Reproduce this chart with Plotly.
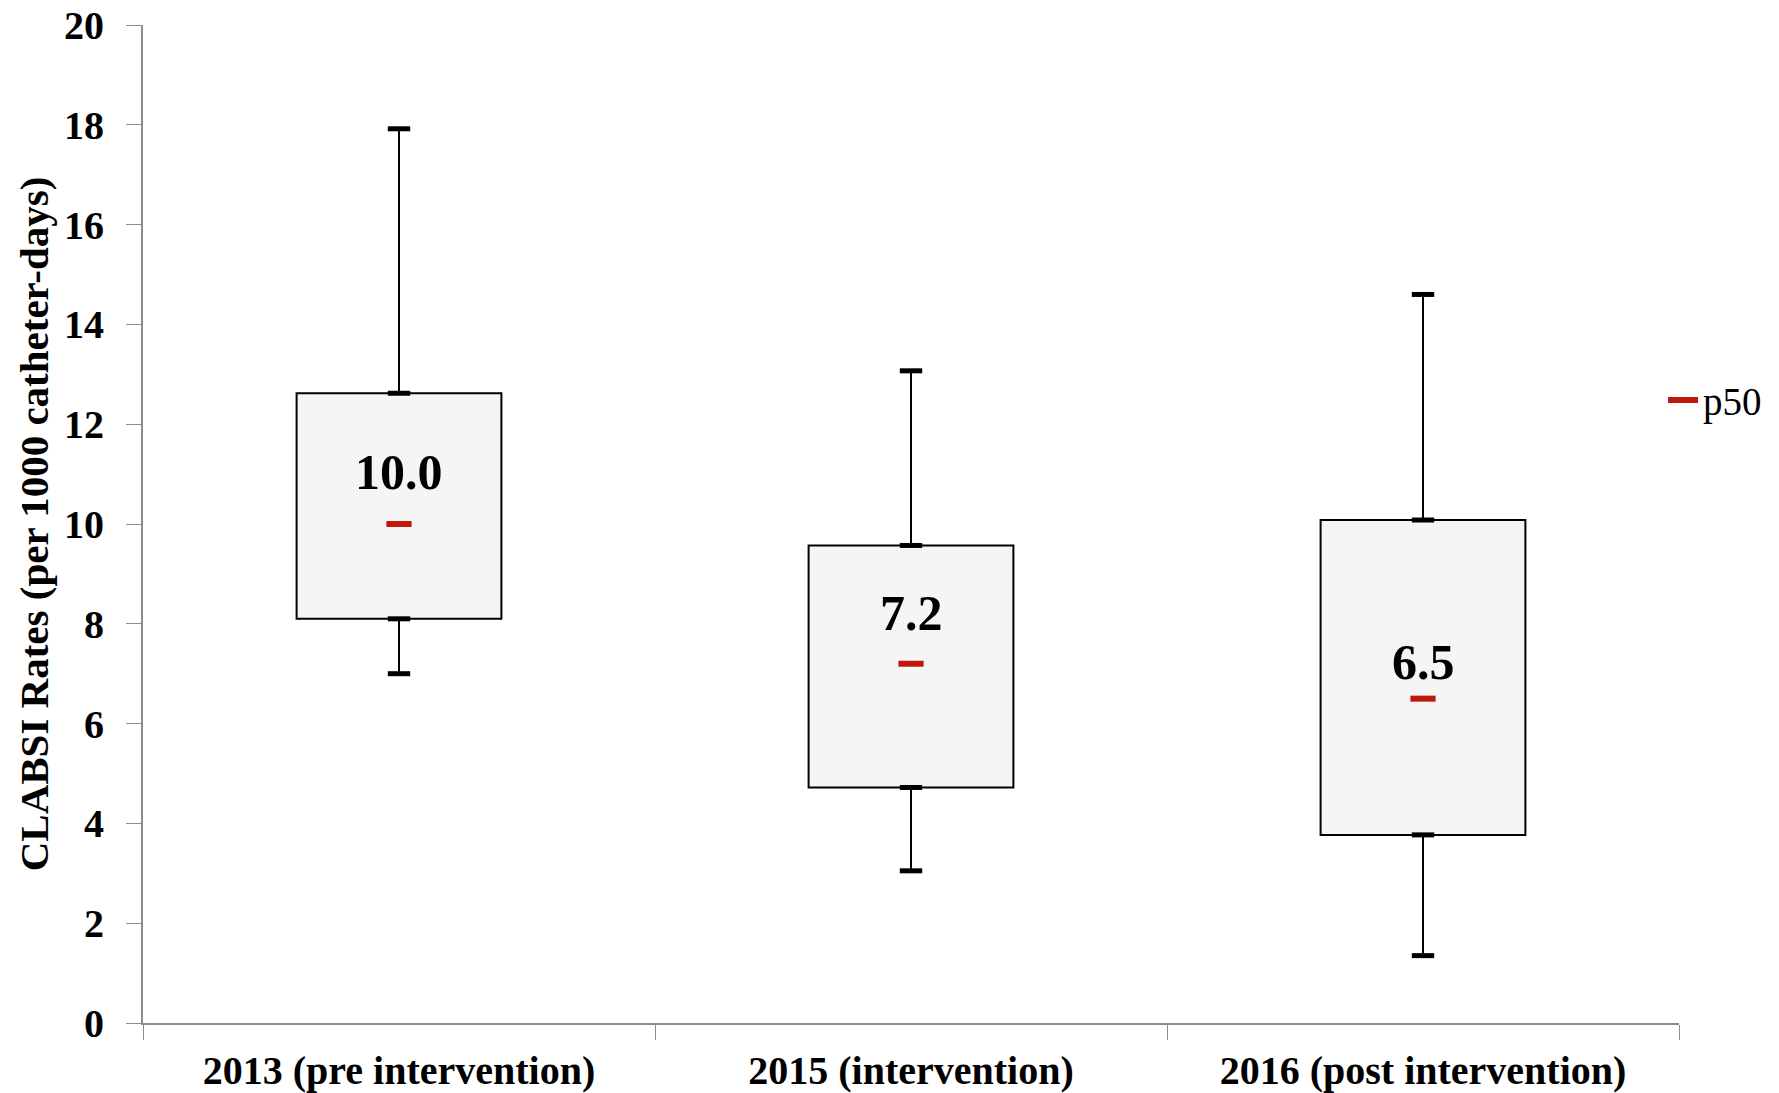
import plotly.graph_objects as go

categories = ["2013 (pre intervention)", "2015 (intervention)", "2016 (post intervention)"]
minimum = [7.0, 3.05, 1.35]
q1 = [8.1, 4.72, 3.77]
median = [10.0, 7.2, 6.5]
q3 = [12.62, 9.57, 10.08]
maximum = [17.92, 13.07, 14.6]
median_labels = ["10.0", "7.2", "6.5"]

# style: vertical pixel offset of each median label
label_yshift = [52, 51, 37]

SERIF = "Liberation Serif, Times New Roman, serif"
RED = "#c0180c"

fig = go.Figure()

# boxes (Q1 to Q3)
fig.add_trace(go.Bar(
    x=categories, y=[b - a for a, b in zip(q1, q3)], base=q1, width=0.4,
    marker=dict(color="#f5f5f5", line=dict(color="black", width=2)),
    showlegend=False, hoverinfo="skip"))

# whiskers
wx, wy = [], []
for c, lo, a, b, hi in zip(categories, minimum, q1, q3, maximum):
    wx += [c, c, None, c, c, None]
    wy += [b, hi, None, lo, a, None]
fig.add_trace(go.Scatter(x=wx, y=wy, mode="lines", line=dict(color="black", width=2),
                         showlegend=False, hoverinfo="skip"))

# caps
cx, cy = [], []
for c, lo, a, b, hi in zip(categories, minimum, q1, q3, maximum):
    cx += [c, c, c, c]
    cy += [lo, a, b, hi]
fig.add_trace(go.Scatter(x=cx, y=cy, mode="markers",
                         marker=dict(symbol="line-ew", size=16, line=dict(color="black", width=5)),
                         showlegend=False, hoverinfo="skip"))

# medians (p50)
mx, my = [], []
for c, m in zip(categories, median):
    mx += [c, None]
    my += [m, None]
fig.add_trace(go.Scatter(x=mx, y=my, mode="lines+markers", name="p50", connectgaps=False,
                         line=dict(color=RED, width=6),
                         marker=dict(symbol="line-ew", size=18, color=RED, line=dict(color=RED, width=6))))

for c, m, t, s in zip(categories, median, median_labels, label_yshift):
    fig.add_annotation(x=c, y=m, text="<b>%s</b>" % t, showarrow=False, yshift=s,
                       font=dict(family=SERIF, size=50, color="black"))

fig.update_layout(
    width=1779, height=1093,
    margin=dict(l=143, r=100, t=25, b=70),
    paper_bgcolor="white", plot_bgcolor="white",
    font=dict(family=SERIF, color="black"),
    showlegend=True,
    legend=dict(x=0.9896, xanchor="left", y=0.624, yanchor="middle",
                font=dict(family=SERIF, size=39, color="black"),
                bgcolor="rgba(0,0,0,0)", borderwidth=0),
)
fig.update_xaxes(
    type="category", range=[-0.5, 2.5], tickson="boundaries",
    showline=True, linecolor="#8c8c8c", linewidth=2,
    ticks="outside", ticklen=15, tickcolor="#8c8c8c", tickwidth=1,
    showgrid=False, zeroline=False,
    tickfont=dict(family=SERIF, size=40, color="black", weight="bold"),
    ticklabelstandoff=11, automargin=False,
)
fig.update_yaxes(
    range=[0, 20], dtick=2, tick0=0,
    showline=True, linecolor="#8c8c8c", linewidth=2,
    ticks="outside", ticklen=15, tickcolor="#8c8c8c", tickwidth=1,
    showgrid=False, zeroline=False,
    tickfont=dict(family=SERIF, size=40, color="black", weight="bold"),
    ticklabelstandoff=14, ticklabeloverflow="allow",
    title=dict(text="CLABSI Rates (per 1000 catheter-days)", standoff=3,
               font=dict(family=SERIF, size=41, color="black", weight="bold")),
    automargin=False,
)

fig.write_html("out.html", config={"displayModeBar": False},
               post_script="document.body.style.margin='0';")
